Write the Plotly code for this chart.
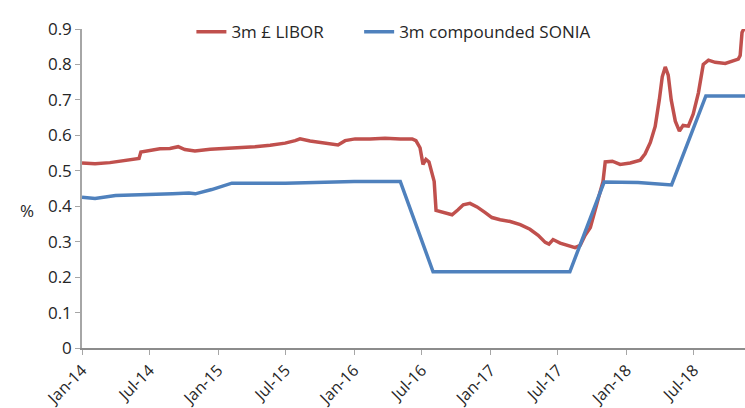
import plotly.graph_objects as go

libor_dates = [
    "2014-01-01", "2014-02-05", "2014-03-17", "2014-04-26", "2014-05-23", "2014-06-03",
    "2014-06-08", "2014-07-03", "2014-07-29", "2014-08-25", "2014-09-16", "2014-10-04",
    "2014-10-31", "2014-12-11", "2015-01-20", "2015-02-28", "2015-04-10", "2015-05-21",
    "2015-06-30", "2015-07-27", "2015-08-09", "2015-09-05", "2015-10-02", "2015-10-29",
    "2015-11-19", "2015-12-08", "2016-01-04", "2016-02-13", "2016-03-24", "2016-05-04",
    "2016-06-05", "2016-06-15", "2016-06-26", "2016-07-04", "2016-07-12", "2016-07-20",
    "2016-07-28", "2016-08-03", "2016-08-08", "2016-09-01", "2016-09-20", "2016-10-06",
    "2016-10-20", "2016-11-07", "2016-11-26", "2016-12-18", "2017-01-05", "2017-01-27",
    "2017-02-23", "2017-03-22", "2017-04-17", "2017-05-09", "2017-05-28", "2017-06-07",
    "2017-06-18", "2017-07-07", "2017-07-26", "2017-08-16", "2017-08-30", "2017-09-12",
    "2017-09-26", "2017-10-09", "2017-10-22", "2017-10-30", "2017-11-05", "2017-11-24",
    "2017-12-15", "2018-01-11", "2018-02-07", "2018-02-20", "2018-03-06", "2018-03-19",
    "2018-03-30", "2018-04-07", "2018-04-15", "2018-04-23", "2018-05-01", "2018-05-12",
    "2018-05-23", "2018-06-02", "2018-06-16", "2018-06-29", "2018-07-13", "2018-07-26",
    "2018-08-09", "2018-08-27", "2018-09-23", "2018-10-14", "2018-10-28", "2018-11-02",
    "2018-11-07", "2018-11-14",
]
libor_values = [
    0.522, 0.520, 0.523, 0.528, 0.533, 0.535,
    0.553, 0.558, 0.562, 0.563, 0.568, 0.560,
    0.556, 0.561, 0.563, 0.565, 0.568, 0.572,
    0.578, 0.585, 0.590, 0.584, 0.580, 0.576,
    0.573, 0.585, 0.590, 0.590, 0.592, 0.590,
    0.590, 0.585, 0.565, 0.518, 0.532, 0.525,
    0.495, 0.470, 0.388, 0.382, 0.376, 0.390,
    0.404, 0.408, 0.398, 0.382, 0.368, 0.362,
    0.357, 0.348, 0.335, 0.318, 0.298, 0.293,
    0.306, 0.296, 0.289, 0.283, 0.290, 0.318,
    0.340, 0.390, 0.440, 0.470, 0.525, 0.527,
    0.518, 0.522, 0.530, 0.548, 0.580, 0.625,
    0.700, 0.765, 0.793, 0.770, 0.700, 0.640,
    0.612, 0.628, 0.626, 0.660, 0.720, 0.800,
    0.812, 0.806, 0.803, 0.810, 0.815, 0.825,
    0.890, 0.905,
]

sonia_dates = [
    "2014-01-01", "2014-02-05", "2014-04-01", "2014-07-01", "2014-09-01", "2014-10-15",
    "2014-11-01", "2014-12-15", "2015-02-07", "2015-07-01", "2015-10-01", "2016-01-01",
    "2016-05-04", "2016-07-31", "2017-08-02", "2017-11-02", "2018-02-01", "2018-05-02",
    "2018-08-02", "2018-11-15",
]
sonia_values = [
    0.425, 0.422, 0.430, 0.432, 0.435, 0.437,
    0.435, 0.447, 0.465, 0.465, 0.467, 0.470,
    0.470, 0.215, 0.215, 0.468, 0.467, 0.460,
    0.711, 0.711,
]

x_tick_dates = ["2014-01-01", "2014-07-01", "2015-01-01", "2015-07-01", "2016-01-01",
                "2016-07-01", "2017-01-01", "2017-07-01", "2018-01-01", "2018-07-01"]
x_tick_labels = ["Jan-14", "Jul-14", "Jan-15", "Jul-15", "Jan-16",
                 "Jul-16", "Jan-17", "Jul-17", "Jan-18", "Jul-18"]
y_tick_values = [0, 0.1, 0.2, 0.3, 0.4, 0.5, 0.6, 0.7, 0.8, 0.9]
y_tick_labels = ["0", "0.1", "0.2", "0.3", "0.4", "0.5", "0.6", "0.7", "0.8", "0.9"]

FONT = "Open Sans"
TXT = "#262626"

fig = go.Figure()
fig.add_trace(go.Scatter(x=libor_dates, y=libor_values, mode="lines",
                         name="3m £ LIBOR", line=dict(color="#C0504D", width=3.5),
                         legend="legend"))
fig.add_trace(go.Scatter(x=sonia_dates, y=sonia_values, mode="lines",
                         name="3m compounded SONIA", line=dict(color="#4F81BD", width=3.5),
                         legend="legend2"))

leg_common = dict(orientation="h", xanchor="left", y=0.99, yanchor="middle",
                  bgcolor="rgba(255,255,255,0)", font=dict(size=17, color=TXT),
                  itemwidth=30)

fig.update_layout(
    width=745, height=408,
    margin=dict(l=82, r=0, t=29, b=60, autoexpand=False),
    paper_bgcolor="white", plot_bgcolor="white",
    font=dict(family=FONT, size=16, color=TXT),
    showlegend=True,
    legend=dict(x=0.165, **leg_common),
    legend2=dict(x=0.418, **leg_common),
    xaxis=dict(
        type="date", range=["2014-01-01", "2018-11-15"], automargin=False,
        tickvals=x_tick_dates, ticktext=x_tick_labels, tickangle=-45,
        showgrid=False, showline=True, linecolor="#8C8C8C", linewidth=1.5,
        ticks="outside", ticklen=5, tickcolor="#A6A6A6",
        tickfont=dict(size=16, color=TXT), zeroline=False,
    ),
    yaxis=dict(
        range=[0, 0.9], tickvals=y_tick_values, ticktext=y_tick_labels, automargin=False,
        showgrid=False, showline=True, linecolor="#A6A6A6", linewidth=1.5,
        ticks="outside", ticklen=5, tickcolor="#A6A6A6",
        tickfont=dict(size=17, color=TXT), zeroline=False,
    ),
    annotations=[dict(text="%", xref="paper", yref="paper", x=-0.097, y=0.43,
                      showarrow=False, font=dict(size=17, color=TXT))],
)

fig.write_html(
    "out.html",
    config={"displayModeBar": False},
    post_script="document.body.style.margin='0';document.body.style.overflow='hidden';",
)
